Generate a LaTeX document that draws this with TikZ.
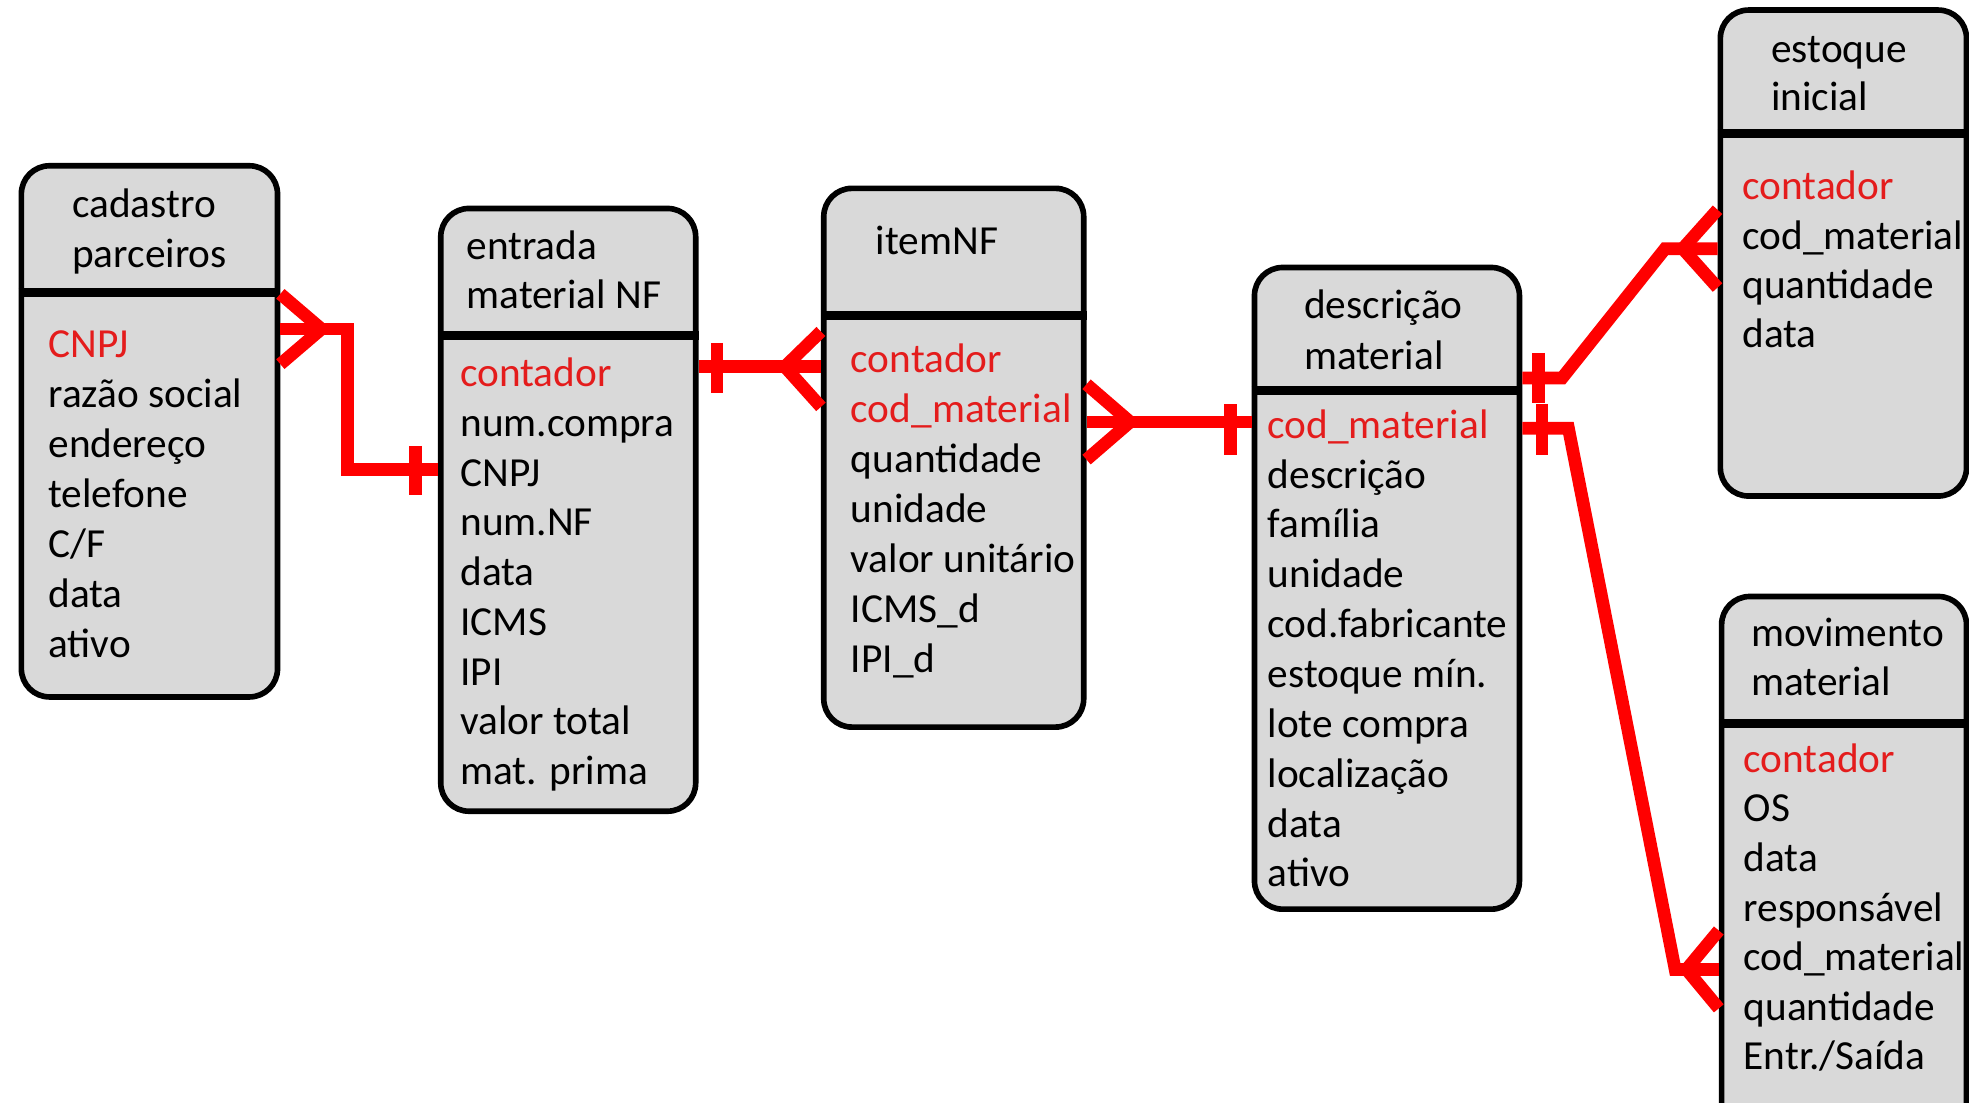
\documentclass[tikz,border=0pt]{standalone}
\usepackage{fontspec}
\setmainfont{Carlito}
\usetikzlibrary{fit}
\definecolor{erred}{RGB}{228,28,28}
\definecolor{linkred}{RGB}{255,0,0}
\definecolor{ergray}{RGB}{217,217,217}
\begin{document}
\begin{tikzpicture}[x=.0125cm,y=-.0125cm,
  entity/.style={draw,line width=1.6pt,fill=ergray,rounded corners=.28cm,inner sep=0pt},
  divider/.style={line width=2.5pt},
  rel/.style={draw=linkred,line width=3.6pt},
  attr/.style={anchor=base west,inner sep=0pt,font=\fontsize{11.7}{14}\selectfont}]
  \useasboundingbox (0,0) rectangle (1568,878);
  \clip (0,0) rectangle (1568,878);
  % tables
  \node[entity,fit={(17,132) (221,555)}] (cad) {};
  \node[entity,fit={(351,166) (554,646)}] (ent) {};
  \node[entity,fit={(656,150) (863,579)}] (itm) {};
  \node[entity,fit={(999,213) (1210,724)}] (des) {};
  \node[entity,fit={(1370,8) (1566,395)}] (est) {};
  \node[entity,fit={(1371,475) (1566,920)}] (mov) {};
  \draw[divider] (cad.west |- 0,233) -- (cad.east |- 0,233);
  \draw[divider] (ent.west |- 0,267) -- (ent.east |- 0,267);
  \draw[divider] (itm.west |- 0,251) -- (itm.east |- 0,251);
  \draw[divider] (des.west |- 0,311) -- (des.east |- 0,311);
  \draw[divider] (est.west |- 0,106) -- (est.east |- 0,106);
  \draw[divider] (mov.west |- 0,576) -- (mov.east |- 0,576);
  % headers
  \node[attr] (cad-h1) at (57,173) {cadastro};
  \node[attr] (cad-h2) at (57,213) {parceiros};
  \node[attr] (ent-h1) at (371,207) {entrada};
  \node[attr] (ent-h2) at (371,246) {material NF};
  \node[attr] (itm-h1) at (697,203) {itemNF};
  \node[attr] (des-h1) at (1038,254) {descrição};
  \node[attr] (des-h2) at (1038,294) {material};
  \node[attr] (est-h1) at (1410,50) {estoque};
  \node[attr] (est-h2) at (1410,88) {inicial};
  \node[attr] (mov-h1) at (1394,515) {movimento};
  \node[attr] (mov-h2) at (1394,554) {material};
  % fields
  \foreach \c/\t [count=\i from 0] in {erred/CNPJ,black/{razão social},black/endereço,
      black/telefone,black/{C/F},black/data,black/ativo}
    \node[attr,text=\c] (cad-\i) at (38,{285+39.7*\i}) {\t};
  \foreach \c/\t [count=\i from 0] in {erred/contador,black/num.compra,black/CNPJ,
      black/num.NF,black/data,black/ICMS,black/IPI,black/{valor total},black/{mat. prima}}
    \node[attr,text=\c] (ent-\i) at (366,{308+39.6*\i}) {\t};
  \foreach \c/\t [count=\i from 0] in {erred/contador,erred/cod\_material,black/quantidade,
      black/unidade,black/{valor unitário},black/ICMS\_d,black/IPI\_d}
    \node[attr,text=\c] (itm-\i) at (677,{297+39.7*\i}) {\t};
  \foreach \c/\t [count=\i from 0] in {erred/cod\_material,black/descrição,black/família,
      black/unidade,black/cod.fabricante,black/{estoque mín.},black/{lote compra},
      black/localização,black/data,black/ativo}
    \node[attr,text=\c] (des-\i) at (1009,{349+39.7*\i}) {\t};
  \foreach \c/\t [count=\i from 0] in {erred/contador,black/cod\_material,black/quantidade,black/data}
    \node[attr,text=\c] (est-\i) at (1387,{159+39.3*\i}) {\t};
  \foreach \c/\t [count=\i from 0] in {erred/contador,black/OS,black/data,black/responsável,
      black/cod\_material,black/quantidade,black/{Entr./Saída}}
    \node[attr,text=\c] (mov-\i) at (1388,{615+39.5*\i}) {\t};
  % relationships
  \coordinate (k1) at (256,262);
  \draw[rel] (cad.east |- 0,234) -- (k1) -- (cad.east |- 0,290);
  \draw[rel] (cad.east |- k1) -- (277,262) -- (277,374) -- (ent.west |- 0,374);
  \draw[rel] (331,355) -- (331,394);
  \coordinate (k2) at (625,292);
  \draw[rel] (ent.east |- k2) -- (itm.west |- k2);
  \draw[rel] (571,273) -- (571,313);
  \draw[rel] (itm.west |- 0,264) -- (k2) -- (itm.west |- 0,324);
  \coordinate (k3) at (900,336);
  \draw[rel] (itm.east |- k3) -- (des.west |- k3);
  \draw[rel] (itm.east |- 0,306) -- (k3) -- (itm.east |- 0,366);
  \draw[rel] (980,322) -- (980,362);
  \coordinate (k4) at (1340,198);
  \draw[rel] (des.east |- 0,301) -- (1244,301) -- (1326,198) -- (est.west |- k4);
  \draw[rel] (1225,281) -- (1225,321);
  \draw[rel] (est.west |- 0,167) -- (k4) -- (est.west |- 0,229);
  \coordinate (k5) at (1343,772);
  \draw[rel] (des.east |- 0,341) -- (1249,341) -- (1334,772) -- (mov.west |- k5);
  \draw[rel] (1228,322) -- (1228,362);
  \draw[rel] (mov.west |- 0,741) -- (k5) -- (mov.west |- 0,803);
\end{tikzpicture}
\end{document}
